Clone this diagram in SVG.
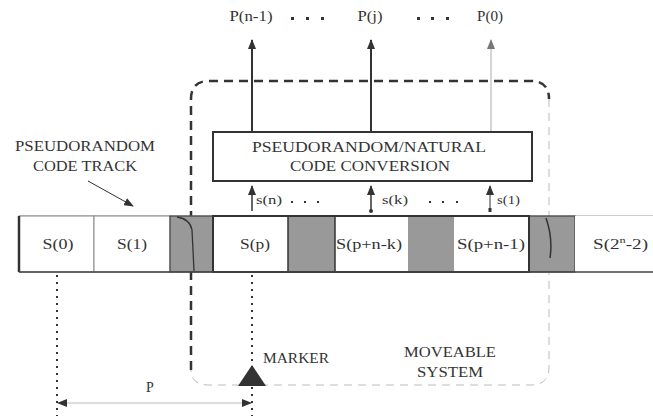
<svg xmlns="http://www.w3.org/2000/svg" width="653" height="416" viewBox="0 0 653 416">
<style>
text{font-family:"Liberation Serif","Times New Roman",serif;fill:#333;font-size:14px}
.c{text-anchor:middle}
.dk{stroke:#333;fill:none}
.lt{stroke:#bbb;fill:none}
.gray{fill:#999;stroke:#333;stroke-width:1}
</style>
<defs>
<marker id="ah" markerWidth="10" markerHeight="8" refX="9" refY="4" orient="auto" markerUnits="userSpaceOnUse" viewBox="0 0 10 8">
<path d="M0,0 L10,4 L0,8 Z" fill="#333"/>
</marker>
<marker id="ahg" markerWidth="10" markerHeight="8" refX="9" refY="4" orient="auto" markerUnits="userSpaceOnUse" viewBox="0 0 10 8">
<path d="M0,0 L10,4 L0,8 Z" fill="#777"/>
</marker>
<marker id="ahs" markerWidth="10" markerHeight="8" refX="9" refY="4" orient="auto-start-reverse" markerUnits="userSpaceOnUse" viewBox="0 0 10 8">
<path d="M0,0 L10,4 L0,8 Z" fill="#333"/>
</marker>
</defs>

<g id="moveable-system">
<path d="M191,370 L191,99 Q191,81 209,81 L531,81 Q549,81 549,99" class="dk" stroke-width="2.5" stroke-dasharray="9,6"/>
<path d="M549,99 L549,367 Q549,385 531,385 L209,385 Q191,385 191,370" class="lt" stroke-width="1" stroke-dasharray="8,6"/>
<text x="450" y="357" class="c" textLength="92" lengthAdjust="spacingAndGlyphs">MOVEABLE</text>
<text x="450" y="377" class="c" textLength="66" lengthAdjust="spacingAndGlyphs">SYSTEM</text>
</g>

<g id="connectors">
<line x1="57" y1="275" x2="57" y2="416" stroke="#333" stroke-width="2" stroke-dasharray="2,5"/>
<line x1="252" y1="275" x2="252" y2="416" stroke="#333" stroke-width="2" stroke-dasharray="2,5"/>
<line x1="252" y1="132" x2="252" y2="40" class="dk" stroke-width="2" marker-end="url(#ah)"/>
<line x1="371" y1="132" x2="371" y2="40" class="dk" stroke-width="2" marker-end="url(#ah)"/>
<line x1="491" y1="132" x2="491" y2="40" stroke="#aaa" stroke-width="1" marker-end="url(#ahg)"/>
<line x1="252" y1="211" x2="252" y2="186" class="dk" stroke-width="1.5" marker-end="url(#ah)"/>
<line x1="371" y1="211" x2="371" y2="186" class="dk" stroke-width="1.5" marker-end="url(#ah)"/>
<circle cx="371" cy="211" r="2" fill="#333"/>
<line x1="490" y1="211" x2="490" y2="186" class="dk" stroke-width="1" marker-end="url(#ah)"/>
<rect x="488.5" y="208" width="3" height="4" fill="#333"/>
<line x1="88" y1="181" x2="133" y2="206" class="dk" stroke-width="1" marker-end="url(#ahs)"/>
<line x1="58" y1="403" x2="251" y2="403" stroke="#bbb" stroke-width="1.2" marker-start="url(#ahs)" marker-end="url(#ahs)"/>
</g>

<g id="outputs">
<text x="251" y="21" class="c" textLength="43" lengthAdjust="spacingAndGlyphs">P(n-1)</text>
<rect x="291" y="17" width="3" height="3" fill="#333"/><rect x="306" y="17" width="3" height="3" fill="#333"/><rect x="321" y="17" width="3" height="3" fill="#333"/>
<text x="370" y="21" class="c" textLength="25" lengthAdjust="spacingAndGlyphs">P(j)</text>
<rect x="417" y="17" width="3" height="3" fill="#333"/><rect x="431" y="17" width="3" height="3" fill="#333"/><rect x="446" y="17" width="3" height="3" fill="#333"/>
<text x="490" y="21" class="c" textLength="26" lengthAdjust="spacingAndGlyphs">P(0)</text>
</g>

<g id="converter">
<rect x="213" y="132" width="319" height="49" fill="#fff" stroke="#333" stroke-width="2"/>
<text x="369" y="152" class="c" textLength="234" lengthAdjust="spacingAndGlyphs">PSEUDORANDOM/NATURAL</text>
<text x="370" y="171" class="c" textLength="160" lengthAdjust="spacingAndGlyphs">CODE CONVERSION</text>
</g>

<g id="inputs">
<text x="256" y="204" style="font-size:12px" textLength="26" lengthAdjust="spacingAndGlyphs">s(n)</text>
<rect x="291" y="201" width="2" height="2" fill="#333"/><rect x="304" y="201" width="2" height="2" fill="#333"/><rect x="317" y="201" width="2" height="2" fill="#333"/>
<text x="382" y="204" style="font-size:12px" textLength="26" lengthAdjust="spacingAndGlyphs">s(k)</text>
<rect x="429" y="201" width="2" height="2" fill="#333"/><rect x="442" y="201" width="2" height="2" fill="#333"/><rect x="456" y="201" width="2" height="2" fill="#333"/>
<text x="497" y="204" style="font-size:12px" textLength="23" lengthAdjust="spacingAndGlyphs">s(1)</text>
</g>

<g id="track-label">
<text x="85" y="151" class="c" textLength="140" lengthAdjust="spacingAndGlyphs">PSEUDORANDOM</text>
<text x="85" y="171" class="c" textLength="104" lengthAdjust="spacingAndGlyphs">CODE TRACK</text>
</g>

<g id="track">
<line x1="19" y1="216" x2="653" y2="216" stroke="#999" stroke-width="1"/>
<rect x="19" y="216" width="75" height="56" fill="#fff" stroke="#888" stroke-width="1"/>
<rect x="94" y="216" width="76" height="56" fill="#fff" stroke="#888" stroke-width="1"/>
<rect x="170" y="216" width="43" height="56" class="gray"/>
<rect x="213" y="216" width="75" height="56" fill="#fff"/>
<rect x="288" y="216" width="47" height="56" fill="#999"/>
<rect x="335" y="216" width="73" height="56" fill="#fff"/>
<rect x="408" y="216" width="46" height="56" fill="#999"/>
<rect x="454" y="216" width="75" height="56" fill="#fff"/>
<rect x="529" y="216" width="46" height="56" class="gray"/>
<rect x="575" y="216" width="78" height="56" fill="#fff"/>
<rect x="213" y="216" width="316" height="56" fill="none" stroke="#333" stroke-width="2"/>
<line x1="288" y1="216" x2="288" y2="272" stroke="#333" stroke-width="1.5"/>
<line x1="335" y1="216" x2="335" y2="272" stroke="#333" stroke-width="1.5"/>
<line x1="19" y1="216" x2="19" y2="272" stroke="#333" stroke-width="2.5"/>
<line x1="19" y1="272" x2="653" y2="272" stroke="#444" stroke-width="1.5"/>
<path d="M177,217 Q190,219 192,230 L194,271" class="dk" stroke-width="1.3"/>
<path d="M546,218 Q553,238 550,258" class="dk" stroke-width="1.5"/>
<text x="58" y="249" class="c" textLength="31" lengthAdjust="spacingAndGlyphs">S(0)</text>
<text x="132" y="249" class="c" textLength="30" lengthAdjust="spacingAndGlyphs">S(1)</text>
<text x="255" y="249" class="c" textLength="30" lengthAdjust="spacingAndGlyphs">S(p)</text>
<text x="369" y="249" class="c" textLength="66" lengthAdjust="spacingAndGlyphs">S(p+n-k)</text>
<text x="491" y="249" class="c" textLength="68" lengthAdjust="spacingAndGlyphs">S(p+n-1)</text>
<text x="593" y="249" textLength="55" lengthAdjust="spacingAndGlyphs">S(2<tspan dy="-6" font-size="9">n</tspan><tspan dy="6">-2)</tspan></text>
</g>

<g id="marker">
<path d="M252,365 L238,386 L266,386 Z" fill="#333"/>
<text x="263" y="363" textLength="66" lengthAdjust="spacingAndGlyphs">MARKER</text>
</g>

<g id="dimension">
<text x="150" y="392" class="c">P</text>
</g>
</svg>
